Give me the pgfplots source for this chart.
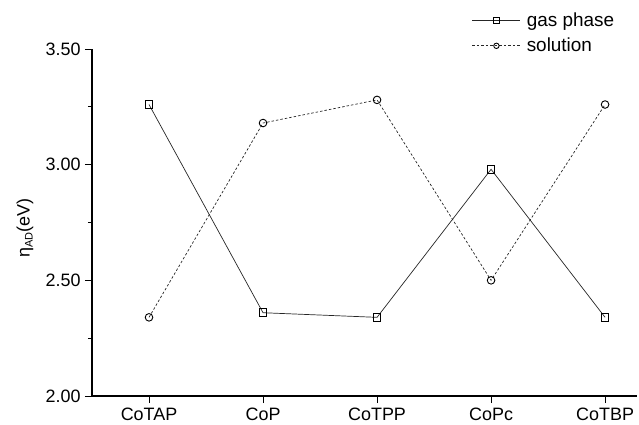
\documentclass[border=0pt]{standalone}
\usepackage{pgfplots}
\pgfplotsset{compat=1.18}
\usepackage{fontspec}
\setmainfont{Liberation Sans}
\begin{document}
\begin{tikzpicture}
\useasboundingbox (0,0) rectangle (639bp,-425bp);
\begin{axis}[
  at={(92bp,-396bp)}, anchor=south west,
  scale only axis, width=545bp, height=347bp,
  xmin=-0.5, xmax=4.28, ymin=2, ymax=3.5,
  axis x line=bottom, axis y line=left,
  axis line style={-, line width=1.1bp},
  xtick={0,1,2,3,4},
  xticklabels={CoTAP,CoP,CoTPP,CoPc,CoTBP},
  ytick={2,2.5,3,3.5},
  minor y tick num=1,
  tick align=outside,
  major tick length=7bp, minor tick length=4bp,
  tick style={line width=0.9bp, black},
  /pgf/number format/assume math mode=true,
  /pgf/number format/.cd, fixed, fixed zerofill, precision=2, /pgfplots/.cd,
  tick label style={font=\fontsize{18}{20}\selectfont},
  yticklabel style={xshift=-1bp},
  xticklabel style={yshift=-1bp},
  ylabel={η{\fontsize{11}{11}\selectfont\raisebox{-3bp}{AD}}(eV)},
  ylabel style={font=\fontsize{18}{20}\selectfont, at={(rel axis cs:-0.123,0.484)}, anchor=center},
  legend style={at={(0.697,1.11)}, anchor=north west, draw=none, fill=none,
    font=\fontsize{19}{21}\selectfont, row sep=6bp, inner sep=0pt,
    legend cell align=left},
  legend image code/.code={\draw[mark repeat=2, mark phase=2, #1, mark size=2.7bp] plot coordinates {(0bp,0bp) (24bp,0bp) (48bp,0bp)};},
  clip=false,
]
\addplot[black!85, line width=0.7bp, mark=square, mark size=3.8bp, mark options={solid, line width=0.9bp, black}]
  coordinates {(0,3.26) (1,2.36) (2,2.34) (3,2.98) (4,2.34)};
\addlegendentry{\hspace{4bp}gas phase}
\addplot[black!85, line width=0.7bp, dash pattern=on 2.5bp off 2bp, mark=o, mark size=3.8bp, mark options={solid, line width=0.9bp, black}]
  coordinates {(0,2.34) (1,3.18) (2,3.28) (3,2.50) (4,3.26)};
\addlegendentry{\hspace{4bp}solution}
\end{axis}
\end{tikzpicture}
\end{document}
